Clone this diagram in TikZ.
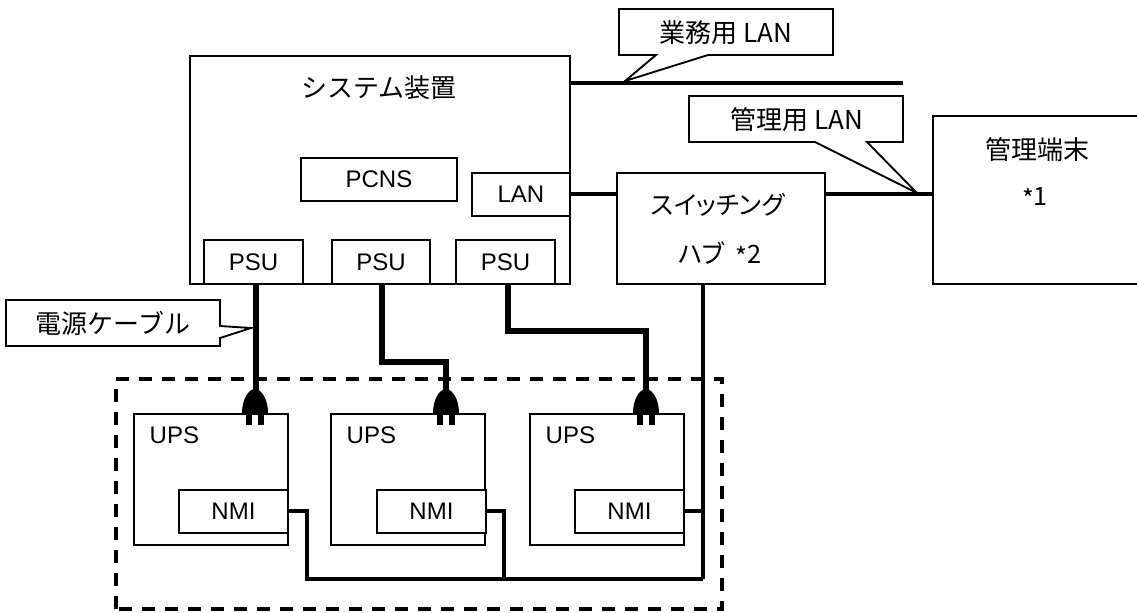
\documentclass[tikz,border=0pt]{standalone}
\usepackage{fontspec}
\setmainfont{Liberation Sans}
\newfontfamily\cjk{Noto Sans CJK JP}
\newfontfamily\cjkp[RawFeature=+palt]{Noto Sans CJK JP}
\tikzset{
  unit/.style={draw,line width=1.4pt,fill=white,inner sep=0pt,anchor=north west,font=\fontsize{18}{20}\selectfont},
  callout/.style={draw,line width=1.4pt,fill=white,line join=miter},
  lan/.style={line width=3pt,line join=miter},
  power/.style={line width=4.8pt,line join=miter},
  calltext/.style={font=\cjk\fontsize{19.5}{22}\selectfont},
  hubtext/.style={font=\cjkp\fontsize{19}{22}\selectfont}
}
\begin{document}
\begin{tikzpicture}[x=0.75pt,y=-0.75pt]
  \useasboundingbox (0,0) rectangle (1137,612);
  % system box and its units
  \node[unit,minimum width=380*0.75pt,minimum height=228*0.75pt] (sys) at (189,55) {};
  \node[unit,minimum width=99*0.75pt,minimum height=44*0.75pt] (psua) at (203,239) {PSU};
  \node[unit,minimum width=98*0.75pt,minimum height=44*0.75pt] (psub) at (331,239) {PSU};
  \node[unit,minimum width=99*0.75pt,minimum height=44*0.75pt] (psuc) at (455,239) {PSU};
  \node[unit,minimum width=98*0.75pt,minimum height=43*0.75pt] (lanport) at (471,172) {\raisebox{-2.2pt}{LAN}};
  \node[unit,minimum width=156*0.75pt,minimum height=43*0.75pt] (pcns) at (300,157) {PCNS};
  \node[unit,minimum width=208*0.75pt,minimum height=111*0.75pt] (hub) at (616,172) {};
  \node[unit,minimum width=207*0.75pt,minimum height=168*0.75pt] (term) at (932,115) {};
  \node[calltext] (systext) at (379,88) {システム装置};
  \node[hubtext] (hubtexta) at (718,205) {スイッチング};
  \node[hubtext] (hubtextb) at (720,254) {ハブ\ \ \raisebox{-2pt}{*}2};
  \node[calltext] (termtexta) at (1037,150) {管理端末};
  \node[hubtext] (termtextb) at (1035,198) {\raisebox{-2pt}{*}1};
  % named ends
  \coordinate (busl) at (307,579);
  \coordinate (busm) at (504,579);
  \coordinate (busr) at (703,579);
  \coordinate (lanstart) at (569,83);
  \coordinate (lanend) at (903,83);
  \coordinate (tipa) at (625,81);
  \coordinate (tipb) at (917,193);
  \coordinate (tipc) at (251,328);
  \coordinate (pluga) at (255,413);
  \coordinate (plugb) at (446,413);
  \coordinate (plugc) at (646,413);
  % dashed frame
  \draw[line width=2.3pt,dash pattern=on 9.75pt off 7.5pt] (116,609) -- (116,379) -- (722,379) -- (722,609) -- cycle;
  % ups row
  \foreach \nm/\x/\nx in {a/133/178,b/330/376,c/529/574}{
    \node[unit,minimum width=154*0.75pt,minimum height=131*0.75pt] (ups\nm) at (\x,413) {};
    \node[anchor=west,font=\fontsize{18}{20}\selectfont] (upstext\nm) at (\x+12,435) {UPS};
    \node[unit,minimum width=109*0.75pt,minimum height=43*0.75pt] (nmi\nm) at (\nx,489) {NMI};
  }
  % power cables
  \draw[power] (256,283) -- (256,392);
  \draw[power] (382,283) -- (382,362) -- (446,362) -- (446,392);
  \draw[power] (508,283) -- (508,331) -- (646,331) -- (646,392);
  \foreach \p in {pluga,plugb,plugc}{
    \fill ([xshift=-9.75pt]\p) .. controls +(0,10pt) and +(-5pt,0pt) .. ([yshift=18pt]\p)
      .. controls +(5pt,0pt) and +(0,10pt) .. ([xshift=9.75pt]\p) -- cycle;
    \fill ([xshift=-7pt,yshift=1pt]\p) rectangle ([xshift=-2.5pt,yshift=-9pt]\p);
    \fill ([xshift=2pt,yshift=1pt]\p) rectangle ([xshift=6.5pt,yshift=-9pt]\p);
  }
  % lan cables
  \draw[lan] (lanstart) -- (lanend);
  \draw[lan] (lanport.east) -- (lanport.east -| hub.west);
  \draw[lan] (hub.east |- lanport.east) -- (term.west |- lanport.east);
  \draw[lan] (busr |- hub.south) -- (busr);
  \draw[lan] (nmic.east) -- (nmic.east -| busr);
  \draw[lan] (nmia.east) -- (nmia.east -| busl) -- (busl) -- (busr);
  \draw[lan] (nmib.east) -- (nmib.east -| busm) -- (busm);
  % callouts
  \draw[callout] (619,9) -- (833,9) -- (833,55) -- (708,55) -- (tipa) -- (656,55) -- (619,55) -- cycle;
  \node[calltext] (lanatext) at (726,33) {業務用 LAN};
  \draw[callout] (689,96) -- (903,96) -- (903,142) -- (867,142) -- (tipb) -- (815,142) -- (689,142) -- cycle;
  \node[calltext] (lanbtext) at (797,120) {管理用 LAN};
  \draw[callout] (6,300) -- (220,300) -- (220,326) -- (tipc) -- (220,338) -- (220,346) -- (6,346) -- cycle;
  \node[calltext] (cabletext) at (113,323) {電源ケーブル};
\end{tikzpicture}
\end{document}
